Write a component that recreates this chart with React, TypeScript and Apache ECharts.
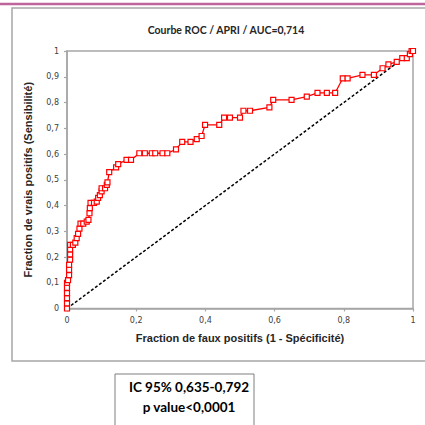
import React, { useEffect, useRef } from "react";
import * as echarts from "echarts";

const chartTitle = "Courbe ROC / APRI / AUC=0,714";
const xAxisName = "Fraction de faux positifs (1 - Spécificité)";
const yAxisName = "Fraction de vrais positifs (Sensibilité)";
const boxLines = ["IC 95% 0,635-0,792", "p value<0,0001"];

const fprValues = [
  0, 0, 0, 0, 0, 0, 0.003, 0.006, 0.006, 0.006, 0.009, 0.009, 0.009, 0.009,
  0.017, 0.024, 0.028, 0.032, 0.036, 0.039, 0.047, 0.057, 0.062, 0.065, 0.066,
  0.068, 0.078, 0.086, 0.09, 0.095, 0.1, 0.1, 0.11, 0.115, 0.117, 0.122, 0.142,
  0.148, 0.172, 0.185, 0.209, 0.225, 0.245, 0.255, 0.276, 0.29, 0.315, 0.333,
  0.357, 0.375, 0.389, 0.399, 0.44, 0.454, 0.471, 0.5, 0.51, 0.529, 0.585,
  0.596, 0.649, 0.693, 0.724, 0.751, 0.775, 0.797, 0.811, 0.854, 0.887, 0.912,
  0.929, 0.953, 0.969, 0.982, 0.991, 0.996, 1,
];
const tprValues = [
  0, 0.02, 0.04, 0.06, 0.08, 0.1, 0.11, 0.13, 0.15, 0.17, 0.19, 0.21, 0.23,
  0.247, 0.247, 0.256, 0.273, 0.29, 0.31, 0.33, 0.33, 0.337, 0.344, 0.37, 0.39,
  0.41, 0.41, 0.415, 0.43, 0.44, 0.455, 0.467, 0.467, 0.48, 0.49, 0.53, 0.548,
  0.561, 0.577, 0.577, 0.603, 0.603, 0.603, 0.603, 0.603, 0.603, 0.618, 0.647,
  0.647, 0.658, 0.67, 0.713, 0.713, 0.741, 0.741, 0.741, 0.768, 0.768, 0.781,
  0.81, 0.81, 0.823, 0.837, 0.837, 0.837, 0.894, 0.894, 0.907, 0.907, 0.933,
  0.948, 0.958, 0.972, 0.972, 0.988, 1, 1,
];
const diagonalX = [0, 1];
const diagonalY = [0, 1];

const fmt = (v: number) => String(Math.round(v * 10) / 10).replace(".", ",");

export default function App() {
  const ref = useRef<HTMLDivElement>(null);
  useEffect(() => {
    if (!ref.current) return;
    const chart = echarts.init(ref.current, null, { renderer: "svg" });
    const axisColor = "#a6a6a6";
    const labelColor = "#404040";
    const nameStyle = {
      fontFamily: "Liberation Sans",
      fontWeight: "bold",
      fontSize: 11,
      color: "#262626",
    };
    const labelStyle = {
      formatter: fmt,
      fontFamily: "DejaVu Sans",
      fontSize: 8,
      color: labelColor,
      margin: 8,
    };
    chart.setOption({
      animation: false,
      backgroundColor: "#ffffff",
      title: {
        text: chartTitle,
        left: 221,
        top: 19,
        textAlign: "center",
        textStyle: {
          fontFamily: "Lato",
          fontWeight: "bold",
          fontSize: 10.5,
          color: "#262626",
        },
      },
      grid: {
        left: 67,
        right: 12,
        top: 51,
        bottom: 116.5,
        show: true,
        borderColor: axisColor,
        borderWidth: 1.5,
      },
      xAxis: {
        type: "value",
        min: 0,
        max: 1,
        interval: 0.2,
        name: xAxisName,
        nameLocation: "middle",
        nameGap: 24,
        nameTextStyle: nameStyle,
        axisLine: { lineStyle: { color: axisColor, width: 1.5 } },
        axisTick: { show: true, length: 3, lineStyle: { color: axisColor, width: 1.2 } },
        splitLine: { show: false },
        axisLabel: labelStyle,
      },
      yAxis: {
        type: "value",
        min: 0,
        max: 1,
        interval: 0.1,
        name: yAxisName,
        nameLocation: "middle",
        nameGap: 34,
        nameRotate: 90,
        nameTextStyle: nameStyle,
        axisLine: { show: true, lineStyle: { color: axisColor, width: 1.5 } },
        axisTick: { show: true, length: 3, lineStyle: { color: axisColor, width: 1.2 } },
        splitLine: { show: false },
        axisLabel: labelStyle,
      },
      series: [
        {
          type: "line",
          data: diagonalX.map((x, i) => [x, diagonalY[i]]),
          symbol: "none",
          lineStyle: { color: "#000000", width: 1.5, type: [3, 2] },
          z: 2,
        },
        {
          type: "line",
          data: fprValues.map((x, i) => [x, tprValues[i]]),
          symbol: "rect",
          symbolSize: 5,
          itemStyle: { color: "#ffffff", borderColor: "#ff0000", borderWidth: 1.2 },
          lineStyle: { color: "#ff0000", width: 1.3 },
          z: 3,
        },
      ],
      graphic: [
        {
          type: "line",
          shape: { x1: 0, y1: 4, x2: 425, y2: 4 },
          style: { stroke: "#c0649c", lineWidth: 2.5 },
        },
        {
          type: "rect",
          shape: { x: 12, y: 8, width: 430, height: 353 },
          style: { fill: "none", stroke: "#a6a6a6", lineWidth: 1.5 },
          z: -1,
        },
        {
          type: "rect",
          shape: { x: 115, y: 374, width: 139, height: 70 },
          style: { fill: "#ffffff", stroke: "#7f7f7f", lineWidth: 1 },
        },
        {
          type: "text",
          x: 189,
          y: 387,
          style: {
            text: boxLines[0],
            fontFamily: "Lato",
            fontWeight: "bold",
            fontSize: 13.5,
            fill: "#000000",
            align: "center",
            verticalAlign: "middle",
          },
        },
        {
          type: "text",
          x: 189,
          y: 407,
          style: {
            text: boxLines[1],
            fontFamily: "Lato",
            fontWeight: "bold",
            fontSize: 13.5,
            fill: "#000000",
            align: "center",
            verticalAlign: "middle",
          },
        },
      ],
    });
    return () => chart.dispose();
  }, []);
  return (
    <div
      ref={ref}
      style={{ position: "absolute", left: 0, top: 0, width: 425, height: 425 }}
    />
  );
}
